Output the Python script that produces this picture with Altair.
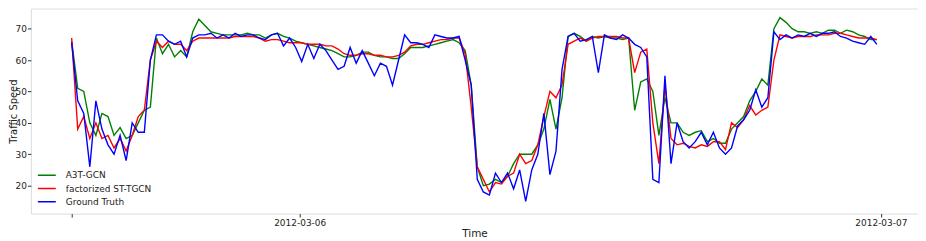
import altair as alt
import pandas as pd

# minutes relative to 2012-03-06 00:00, 15-minute sampling from 2012-03-05 14:35
start_min = -565
step_min = 15

ground_truth = [65.5, 47, 43, 26, 47, 38, 33, 30, 36, 28, 40, 37, 37, 60, 68, 68, 66, 65, 66, 61,
                67, 68, 68, 68.5, 67, 68, 67, 68.5, 67.5, 68, 68, 67, 66.5, 68, 68.5, 64.5, 67, 64, 59.5, 65,
                60.5, 65, 63, 60, 57, 58, 64, 59, 63, 59, 55, 59, 58, 52, 60, 68, 65.5, 65.5, 65, 64,
                68, 67.5, 67, 67, 67.5, 60, 52, 22, 18, 17, 24, 21, 24, 19, 25, 15, 25, 30, 43, 23.5,
                31, 57, 67.5, 68.5, 66, 66.5, 67.5, 56, 68, 67, 66.5, 68, 67, 65, 64, 61, 22, 21, 55, 27,
                40, 34, 32, 34, 37, 33, 37, 32, 30, 32, 39, 41, 44, 50.5, 45, 48, 69, 66.5, 68, 67,
                68, 67.5, 68.5, 67.5, 68.5, 68.5, 69, 67.5, 67, 66, 65.5, 65, 67.5, 65]

a3t_gcn = [66, 51, 50, 40, 36, 43, 42, 36, 38.5, 35, 36, 40, 44, 45, 67, 62, 65, 61, 63, 61,
           69, 73, 71, 69, 68.5, 68, 68, 68, 68, 68.5, 68, 68, 67, 68, 68.5, 67.5, 67, 66, 65.5, 65,
           64.5, 64, 63.5, 63, 62, 61, 61, 61.5, 62.5, 62.5, 61.5, 61, 61, 60.5, 60.5, 62, 64, 64, 64, 64.5,
           65, 65.5, 66, 66.5, 65.5, 63, 52, 26, 20, 20.5, 22, 21, 23, 27, 30, 30, 30, 33, 38, 47.5,
           38, 48, 67.5, 68.5, 67.5, 66, 67.5, 67, 67.5, 67, 67, 66.5, 67, 44, 53, 54, 50, 36, 48, 40,
           40, 37, 36, 37, 37.5, 34, 35, 33.5, 33.5, 38, 40, 42, 47, 50, 54, 52, 70, 73.5, 72, 70,
           69, 69, 68.5, 69, 68.5, 69.5, 69.5, 68.5, 69.5, 69, 68, 67.5, 66.5, 66.5]

st_tgcn = [67, 38, 42, 35, 40, 35, 36, 32, 35, 31, 36, 42, 44, 60, 66, 64, 66, 65, 65, 63,
           66, 67, 67, 67, 67, 67, 67, 67.5, 67.5, 67.5, 67.5, 67, 66, 66.5, 66.5, 66, 65.5, 65.5, 65.5, 65,
           65, 65, 64.5, 64.5, 63.5, 62, 61.5, 61.5, 62, 62, 61.5, 61.5, 61, 61, 61.5, 62.5, 64.5, 65, 65, 65.5,
           66, 66.5, 66.5, 67, 67, 62, 45, 26, 22, 18, 21, 20.5, 23, 24, 30, 27, 28, 33, 42, 50,
           48, 52, 65, 66, 67, 66, 67, 67.5, 67.5, 67.5, 67.5, 67, 67, 56, 62.5, 63.5, 40, 27, 52, 35,
           33, 33.5, 32.5, 32, 33, 32.5, 34, 34, 31.5, 40, 38.5, 41, 45.5, 42.5, 44, 45, 60, 68, 67.5, 67,
           67.5, 67.5, 67.5, 68, 68, 68, 68.5, 68.5, 68, 67.5, 67, 67, 67, 66.5]

series_names = ["A3T-GCN", "factorized ST-TGCN", "Ground Truth"]
series_colors = ["#008000", "#ff0000", "#0000ff"]

tick_minutes = [start_min, 0, 1440]
tick_labels = ["", "2012-03-06", "2012-03-07"]

rows = []
for name, vals in zip(series_names, [a3t_gcn, st_tgcn, ground_truth]):
    for i, v in enumerate(vals):
        rows.append({"t": start_min + step_min * i, "speed": v, "series": name})
df = pd.DataFrame(rows)

label_expr = " : ".join(
    f"datum.value == {m} ? '{l}'" for m, l in zip(tick_minutes, tick_labels)
) + " : ''"

x_enc = alt.X(
    "t:Q",
    scale=alt.Scale(domain=[-666, 1532], nice=False, zero=False),
    axis=alt.Axis(values=tick_minutes, labelExpr=label_expr, title="Time",
                  grid=False, domain=False, tickSize=3.5, tickColor="#333",
                  labelFontSize=9, labelPadding=1.5, labelColor="#222",
                  titleFontSize=10.5, titleFontWeight="normal", titleColor="#222",
                  titleY=20, titleBaseline="middle", labelFlush=False),
)
y_enc = alt.Y(
    "speed:Q",
    scale=alt.Scale(domain=[11.1, 76.4], nice=False, zero=False),
    axis=alt.Axis(values=[20, 30, 40, 50, 60, 70], title="Traffic Speed",
                  grid=False, domain=False, tickSize=3.5, tickColor="#333",
                  labelFontSize=9, labelPadding=1, labelColor="#222",
                  titleFontSize=10, titleFontWeight="normal", titleColor="#222",
                  titleX=-17.5, titleBaseline="middle"),
)
color_enc = alt.Color(
    "series:N",
    scale=alt.Scale(domain=series_names, range=series_colors),
    legend=alt.Legend(title=None, orient="none", legendX=6, legendY=161,
                      symbolType="stroke", symbolSize=324, symbolStrokeWidth=1.5,
                      clipHeight=13, rowPadding=0.3,
                      labelFontSize=9, labelOffset=9, labelColor="#222"),
)

layers = []
for name in series_names:
    layers.append(
        alt.Chart(df).transform_filter(alt.datum.series == name)
        .mark_line(strokeWidth=1.4, clip=True)
        .encode(x=x_enc, y=y_enc, color=color_enc)
    )

chart = alt.layer(*layers).properties(
    width=891, height=206,
    autosize=alt.AutoSizeParams(type="none"),
    padding={"left": 23, "top": 0, "right": 0, "bottom": 26},
).configure_view(stroke="#444", strokeWidth=1).configure(font="DejaVu Sans")

chart.save("out.html", embed_options={"renderer": "svg", "actions": False})
